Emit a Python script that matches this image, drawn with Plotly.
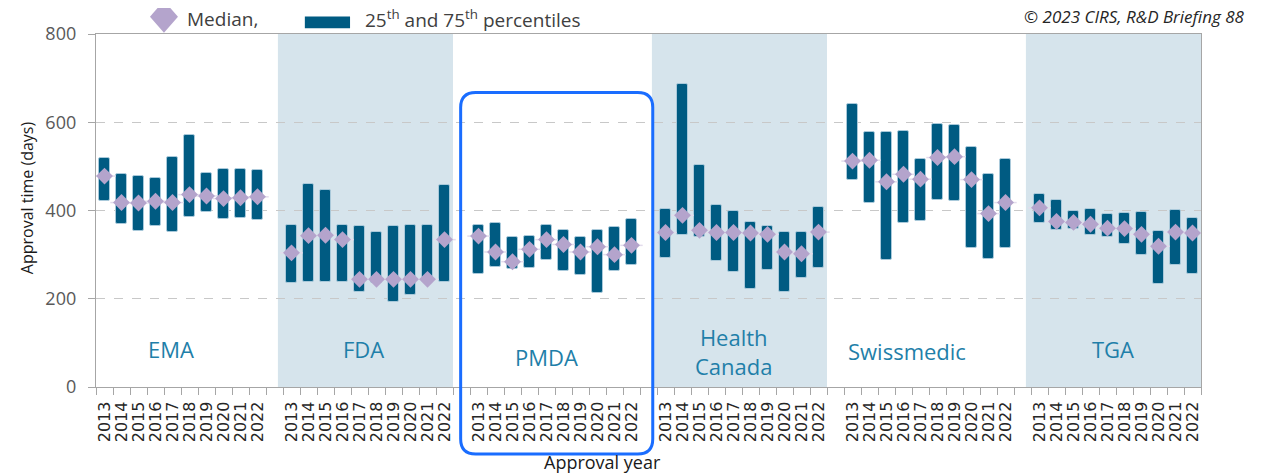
import plotly.graph_objects as go

years = [2013, 2014, 2015, 2016, 2017, 2018, 2019, 2020, 2021, 2022]
agencies = ["EMA", "FDA", "PMDA", "Health<br>Canada", "Swissmedic", "TGA"]

ema_q25 = [421, 370, 353, 364, 352, 386, 396, 380, 383, 379]
ema_q75 = [519, 483, 478, 474, 521, 572, 484, 495, 495, 492]
ema_med = [478, 418, 417, 421, 418, 436, 433, 427, 429, 431]

fda_q25 = [236, 239, 239, 239, 216, 235, 192, 208, 239, 239]
fda_q75 = [368, 460, 446, 368, 366, 352, 366, 367, 367, 458]
fda_med = [304, 343, 344, 334, 244, 244, 244, 244, 244, 334]

pmda_q25 = [255, 272, 268, 269, 287, 264, 253, 213, 264, 276]
pmda_q75 = [368, 372, 340, 343, 368, 356, 339, 355, 362, 381]
pmda_med = [342, 306, 284, 312, 334, 323, 306, 318, 300, 321]

hc_q25 = [293, 345, 340, 286, 260, 223, 266, 216, 246, 270]
hc_q75 = [404, 686, 503, 413, 398, 374, 364, 352, 352, 408]
hc_med = [350, 389, 355, 350, 350, 349, 346, 306, 302, 351]

sm_q25 = [469, 418, 287, 372, 377, 423, 422, 315, 291, 314]
sm_q75 = [641, 578, 577, 580, 516, 596, 593, 543, 482, 516]
sm_med = [512, 514, 465, 482, 471, 520, 522, 470, 393, 418]

tga_q25 = [371, 355, 359, 345, 340, 325, 299, 234, 277, 255]
tga_q75 = [437, 423, 398, 404, 391, 395, 397, 354, 402, 383]
tga_med = [406, 375, 373, 369, 360, 359, 346, 319, 351, 349]

q25 = [ema_q25, fda_q25, pmda_q25, hc_q25, sm_q25, tga_q25]
q75 = [ema_q75, fda_q75, pmda_q75, hc_q75, sm_q75, tga_q75]
med = [ema_med, fda_med, pmda_med, hc_med, sm_med, tga_med]

# label placement (data x, value y)
label_x = [3.9, 15.25, 26.0, 37.0, 47.2, 59.3]
label_y = [87, 85, 69, 81, 81, 85]
shaded = [1, 3, 5]

SLOT = 11
xs, base, height, meds, ticktext = [], [], [], [], []
for g in range(len(agencies)):
    for j, yr in enumerate(years):
        xs.append(g * SLOT + j)
        base.append(q25[g][j])
        height.append(q75[g][j] - q25[g][j])
        meds.append(med[g][j])
        ticktext.append(str(yr))

XMIN, XMAX = -0.5, xs[-1] + 0.5
YMAX = 800

BAR = "#005b82"
MED = "#b4a4cc"
SHADE = "#d6e4ec"
LAB = "#1f7fa9"
GRID = "#c8c8c8"
AX = "#a6a6a6"

fig = go.Figure()
fig.add_trace(go.Bar(
    x=xs, y=height, base=base, width=0.6,
    marker=dict(color=BAR, line=dict(color="#a9c9da", width=1), cornerradius=2),
    showlegend=False, hoverinfo="skip"))
fig.add_trace(go.Scatter(
    x=xs, y=meds, mode="markers",
    marker=dict(symbol="line-ew", size=16, line=dict(color="#e3dcec", width=1.5)),
    showlegend=False, hoverinfo="skip"))
fig.add_trace(go.Scatter(
    x=xs, y=meds, mode="markers",
    marker=dict(symbol="diamond", size=13, color=MED, line=dict(width=0)),
    showlegend=False))

shapes = []
for g in shaded:
    first = g * SLOT
    last = g * SLOT + len(years) - 1
    shapes.append(dict(type="rect", xref="x", yref="y", x0=first - 0.8, x1=last + 0.5,
                       y0=0, y1=YMAX, fillcolor=SHADE, line=dict(width=0), layer="below"))

# PMDA highlight box (rounded), in paper coords
def px_x(x):
    return (x - XMIN) / (XMAX - XMIN)

bx0, bx1 = px_x(20.95), px_x(32.25)
by0, by1 = -0.19, 0.834
rx, ry = 15 / 1105, 15 / 353
path = (f"M {bx0+rx},{by1} L {bx1-rx},{by1} Q {bx1},{by1} {bx1},{by1-ry} "
        f"L {bx1},{by0+ry} Q {bx1},{by0} {bx1-rx},{by0} "
        f"L {bx0+rx},{by0} Q {bx0},{by0} {bx0},{by0+ry} "
        f"L {bx0},{by1-ry} Q {bx0},{by1} {bx0+rx},{by1} Z")
shapes.append(dict(type="path", xref="paper", yref="paper", path=path,
                   line=dict(color="#1a6dff", width=3), layer="above"))

# legend symbols
shapes.append(dict(type="path", xref="paper", yref="paper", xsizemode="pixel", ysizemode="pixel",
                   xanchor=0.0615, yanchor=1.049,
                   path="M -14 0 L 0 16 L 14 0 L 0 -16 Z", fillcolor=MED, line=dict(width=0)))
shapes.append(dict(type="rect", xref="paper", yref="paper", x0=0.189, x1=0.2299,
                   y0=1.0164, y1=1.0493, fillcolor=BAR, line=dict(width=0)))

annotations = []
for name, lx, ly in zip(agencies, label_x, label_y):
    annotations.append(dict(x=lx, y=ly, xref="x", yref="y", text=name, showarrow=False,
                            xanchor="center", yanchor="middle",
                            font=dict(family="Open Sans", size=22, color=LAB), align="center"))
annotations += [
    dict(x=0.0805, y=1.043, xref="paper", yref="paper", text="Median,", showarrow=False,
         xanchor="left", yanchor="middle", font=dict(family="Open Sans", size=19, color="#404040")),
    dict(x=0.2416, y=1.043, xref="paper", yref="paper",
         text="25<sup>th</sup> and 75<sup>th</sup> percentiles", showarrow=False,
         xanchor="left", yanchor="middle", font=dict(family="Open Sans", size=19, color="#404040")),
    dict(x=1.0416, y=1.049, xref="paper", yref="paper", text="<i>© 2023 CIRS, R&D Briefing 88</i>",
         showarrow=False, xanchor="right", yanchor="middle",
         font=dict(family="Open Sans", size=17, color="#262626")),
    dict(x=-0.0624, y=0.535, xref="paper", yref="paper", text="Approval time (days)",
         showarrow=False, textangle=-90, xanchor="center", yanchor="middle",
         font=dict(family="Open Sans", size=16, color="#1a1a1a")),
    dict(x=0.4588, y=-0.2135, xref="paper", yref="paper", text="Approval year",
         showarrow=False, xanchor="center", yanchor="middle",
         font=dict(family="Open Sans", size=18, color="#1a1a1a")),
]

# page body adds an 8px offset, so the figure is 8px smaller than the window
fig.update_layout(
    width=1254, height=465,
    margin=dict(l=88, r=61, t=26, b=86, autoexpand=False),
    paper_bgcolor="white", plot_bgcolor="white",
    shapes=shapes, annotations=annotations, showlegend=False,
    bargap=0,
    xaxis=dict(range=[XMIN, XMAX], tickmode="array", tickvals=xs, ticktext=ticktext,
               tickangle=-90, ticks="outside", ticklen=7, tickcolor="rgba(0,0,0,0)",
               tickfont=dict(family="DejaVu Sans", size=16, color="#262626"),
               showgrid=False, zeroline=False, showline=True, mirror=True,
               linecolor=AX, linewidth=1.3, automargin=False,
               minor=dict(tickmode="linear", tick0=-0.5, dtick=1, ticks="outside",
                          ticklen=7, tickcolor=AX, tickwidth=1, showgrid=False)),
    yaxis=dict(range=[0, YMAX], tickvals=[0, 200, 400, 600, 800], ticks="outside",
               ticklen=7, tickcolor=AX, ticklabelstandoff=8, automargin=False,
               tickfont=dict(family="Open Sans", size=18, color="#595959"),
               showgrid=True, gridcolor=GRID, griddash="dash", gridwidth=1,
               zeroline=False, showline=True, mirror=True, linecolor=AX, linewidth=1.3),
)

fig.write_html("out.html")
